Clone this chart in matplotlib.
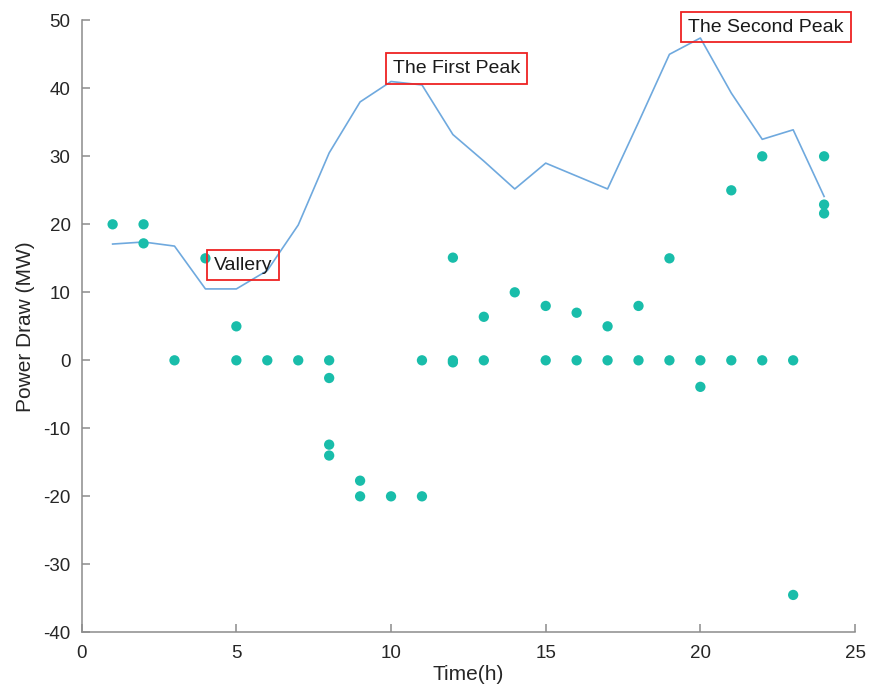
import numpy as np
import matplotlib
matplotlib.use("Agg")
import matplotlib.pyplot as plt

plt.rcParams['font.family'] = ['Liberation Sans', 'DejaVu Sans']
plt.rcParams['axes.unicode_minus'] = False

# hourly demand curve
hours = np.arange(1, 25)
demand = [17.1, 17.4, 16.8, 10.5, 10.5, 13.2, 19.9, 30.5, 38.0, 41.0, 40.5, 33.2,
          29.3, 25.2, 29.0, 27.1, 25.2, 35.0, 45.0, 47.4, 39.3, 32.5, 33.9, 24.1]

# individual unit dispatch per hour
unit_t = [1, 2, 2, 3, 4, 5, 5, 6, 7, 8, 8, 8, 8, 9, 9, 10, 11, 11, 12, 12, 12,
          13, 13, 14, 15, 15, 16, 16, 17, 17, 18, 18, 19, 19, 20, 20, 21, 21,
          22, 22, 23, 23, 24, 24, 24]
unit_p = [20, 20, 17.2, 0, 15, 5, 0, 0, 0, 0, -2.6, -12.4, -14, -17.7, -20, -20,
          0, -20, 15.1, 0, -0.3, 6.4, 0, 10, 8, 0, 7, 0, 5, 0, 8, 0, 15, 0, 0,
          -3.9, 25, 0, 30, 0, 0, -34.5, 30, 22.9, 21.6]

notes = ["Vallery", "The First Peak", "The Second Peak"]
note_x = [4.26, 10.05, 19.61]
note_y = [14.0, 42.9, 49.0]

fig = plt.figure(figsize=(8.7, 6.91), dpi=100)
ax = fig.add_axes([0.0939, 0.0849, 0.8889, 0.8857])

ax.plot(hours, demand, color='#6fa9de', lw=1.2)
ax.scatter(unit_t, unit_p, s=55, color='#19bdaa', edgecolors='none', zorder=3)

for s, x, y in zip(notes, note_x, note_y):
    ax.text(x, y, s, ha='left', va='center', fontsize=14, color='#1a1a1a',
            clip_on=False,
            bbox=dict(boxstyle='square,pad=0.35', facecolor='none',
                      edgecolor='#ee2222', lw=1.3))

ax.set_xlim(0, 25)
ax.set_ylim(-40, 50)
ax.set_xticks(np.arange(0, 26, 5))
ax.set_yticks(np.arange(-40, 51, 10))

for side in ['top', 'right']:
    ax.spines[side].set_visible(False)
for side in ['left', 'bottom']:
    ax.spines[side].set_color('#8c8c8c')
    ax.spines[side].set_linewidth(1.1)

ax.tick_params(direction='in', length=6, width=1.1, color='#8c8c8c',
               labelsize=13.5, labelcolor='#262626')
ax.tick_params(axis='y', pad=8)
ax.tick_params(axis='x', pad=9)

ax.set_xlabel("Time(h)", fontsize=15, color='#262626', labelpad=2)
ax.set_ylabel("Power Draw (MW)", fontsize=15, color='#262626', labelpad=6)

fig.savefig("out.png", dpi=100)
